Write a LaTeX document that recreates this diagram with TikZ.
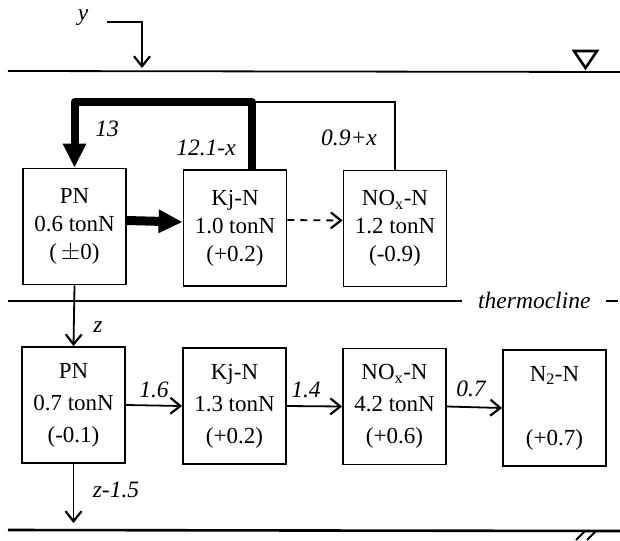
\documentclass[tikz,border=0pt]{standalone}
\usepackage{fontspec}
\setmainfont{Liberation Serif}
\usetikzlibrary{arrows.meta}
\begin{document}
\begin{tikzpicture}[x=1pt,y=-1pt,
  box/.style={draw, line width=1.8pt, minimum width=103pt, minimum height=116pt, inner sep=0pt, align=center, font=\fontsize{23}{28}\selectfont},
  lowbox/.style={box, font=\fontsize{23}{32}\selectfont},
  lab/.style={font=\fontsize{23.5}{25}\selectfont\itshape, inner sep=0pt},
  thinline/.style={line width=1.8pt},
  flow/.style={line width=1.8pt, -{Straight Barb[length=10pt,width=16pt,line width=2.2pt]}},
  dflow/.style={flow, dash pattern=on 7pt off 6pt},
  heavy/.style={line width=8pt, line join=round, -{Triangle[length=24pt,width=22pt]}},
  level/.style={line width=1.8pt}]
\useasboundingbox (0,0) rectangle (620,540);

% water surface
\draw[level] (8,71) -- (620,72);
\draw[line width=2.6pt, line join=miter] (574,51) -- (597,51) -- (585.5,68) -- cycle;
% input y
\node[lab] (ylab) at (83,18) {y};
\coordinate (ys) at (107,22);
\coordinate (ye) at (142,68);
\draw[flow] (ys) -| (ye);

% upper layer boxes
\node[box] (pnt) at (74.5,226.5) {PN\\0.6 tonN\\(\,$\pm$0)};
\node[box] (kjt) at (235,228) {Kj-N\\1.0 tonN\\(+0.2)};
\node[box] (nxt) at (395,228.5) {NO\textsubscript{x}-N\\1.2 tonN\\(-0.9)};

% loops
\coordinate (rt) at (252,102);
\draw[thinline] (nxt.north) |- (rt);
\draw[heavy] (kjt.north -| rt) -- (rt) -| (pnt.north);
\node[lab] (l13) at (107,129) {13};
\node[lab] (l121) at (206,148) {12.1-x};
\node[lab] (l09) at (349,138) {0.9+x};

% horizontal flows upper
\draw[line width=9pt, -{Triangle[length=24pt,width=22pt]}] ([yshift=6pt]pnt.east) -- ([yshift=6pt]kjt.west);
\draw[dflow] ([yshift=8pt]kjt.east) -- ([yshift=8pt]nxt.west);

% thermocline
\draw[level] (8,301) -- (462,301);
\node[lab, anchor=west] (thermo) at (478,300) {thermocline};
\coordinate (td1) at (606,301);
\coordinate (td2) at (618,301);
\draw[level] (td1) -- (td2);

% lower layer boxes
\node[lowbox] (pnb) at (73.5,405) {PN\\0.7 tonN\\(-0.1)};
\node[lowbox] (kjb) at (234.5,406) {Kj-N\\1.3 tonN\\(+0.2)};
\node[lowbox] (nxb) at (394.5,406.5) {NO\textsubscript{x}-N\\4.2 tonN\\(+0.6)};
\node[lowbox] (n2b) at (554.5,408) {N\textsubscript{2}-N\\\strut\\(+0.7)};

\draw[flow] (pnt.south) -- (pnb.north);
\node[lab] (lz) at (98,327) {z};
\draw[flow] (pnb.east) -- (kjb.west);
\draw[flow] (kjb.east) -- (nxb.west);
\draw[flow] (nxb.east) -- (n2b.west);
\node[lab] (l16) at (154,390) {1.6};
\node[lab] (l14) at (306,390) {1.4};
\node[lab] (l07) at (471,389) {0.7};

\coordinate (zb) at (73.5,523);
\draw[flow] (pnb.south) -- (zb);
\node[lab] (lz15) at (116,490) {z-1.5};

% bottom
\draw[line width=2.6pt] (8,530) -- (620,531);
\draw[line width=1.8pt] (576,540) -- (585,531);
\draw[line width=1.8pt] (587,540) -- (596,531);
\end{tikzpicture}
\end{document}
